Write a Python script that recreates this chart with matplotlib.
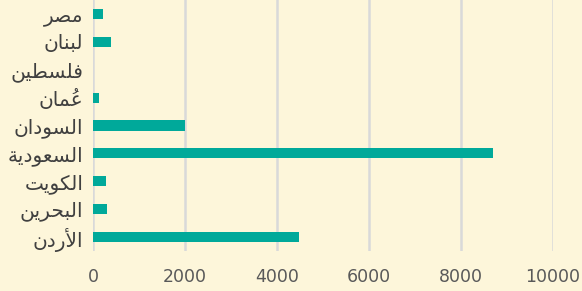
import matplotlib
matplotlib.use("Agg")
import matplotlib.pyplot as plt

# data, top to bottom as in the chart
countries = ["مصر", "لبنان", "فلسطين", "عُمان", "السودان",
             "السعودية", "الكويت", "البحرين", "الأردن"]
values = [220, 390, 0, 130, 2000, 8700, 280, 300, 4470]
xticks = [0, 2000, 4000, 6000, 8000, 10000]

# matplotlib has no arabic shaping, so map letters to presentation forms
# (isolated, final, initial, medial); right-joining letters have only 2
FORMS = {
    "ا": ("\uFE8D", "\uFE8E"), "أ": ("\uFE83", "\uFE84"),
    "د": ("\uFEA9", "\uFEAA"), "ر": ("\uFEAD", "\uFEAE"),
    "و": ("\uFEED", "\uFEEE"), "ة": ("\uFE93", "\uFE94"),
    "ب": ("\uFE8F", "\uFE90", "\uFE91", "\uFE92"),
    "ت": ("\uFE95", "\uFE96", "\uFE97", "\uFE98"),
    "ح": ("\uFEA1", "\uFEA2", "\uFEA3", "\uFEA4"),
    "س": ("\uFEB1", "\uFEB2", "\uFEB3", "\uFEB4"),
    "ص": ("\uFEB9", "\uFEBA", "\uFEBB", "\uFEBC"),
    "ط": ("\uFEC1", "\uFEC2", "\uFEC3", "\uFEC4"),
    "ع": ("\uFEC9", "\uFECA", "\uFECB", "\uFECC"),
    "ف": ("\uFED1", "\uFED2", "\uFED3", "\uFED4"),
    "ك": ("\uFED9", "\uFEDA", "\uFEDB", "\uFEDC"),
    "ل": ("\uFEDD", "\uFEDE", "\uFEDF", "\uFEE0"),
    "م": ("\uFEE1", "\uFEE2", "\uFEE3", "\uFEE4"),
    "ن": ("\uFEE5", "\uFEE6", "\uFEE7", "\uFEE8"),
    "ي": ("\uFEF1", "\uFEF2", "\uFEF3", "\uFEF4"),
}
LAM_ALEF = {"ا": ("\uFEFB", "\uFEFC"), "أ": ("\uFEF7", "\uFEF8")}
MARKS = {"\u064F"}


def shape(word):
    # group into clusters: base letter + following marks
    clusters = []
    for ch in word:
        if ch in MARKS and clusters:
            clusters[-1][1] += ch
        else:
            clusters.append([ch, ""])
    # merge lam + alef
    merged = []
    i = 0
    while i < len(clusters):
        if clusters[i][0] == "ل" and i + 1 < len(clusters) and clusters[i + 1][0] in LAM_ALEF:
            merged.append(["LA" + clusters[i + 1][0], clusters[i][1] + clusters[i + 1][1]])
            i += 2
        else:
            merged.append(clusters[i])
            i += 1

    def dual(c):
        return c in FORMS and len(FORMS[c]) == 4

    out = []
    for i, (c, m) in enumerate(merged):
        prev_joins = i > 0 and dual(merged[i - 1][0])
        if c.startswith("LA"):
            g = LAM_ALEF[c[2]][1 if prev_joins else 0]
        else:
            forms = FORMS[c]
            next_joins = dual(c) and i + 1 < len(merged)
            if prev_joins and next_joins:
                g = forms[3]
            elif next_joins:
                g = forms[2]
            elif prev_joins:
                g = forms[1]
            else:
                g = forms[0]
        # mark goes before the base in visual order so it sits over it
        out.append(m + g)
    return "".join(reversed(out))


fig = plt.figure(figsize=(5.82, 2.91), dpi=100)
bg = "#fdf6da"
fig.patch.set_facecolor(bg)
ax = fig.add_axes([0.16, 0.1375, 0.79, 0.8625])
ax.set_facecolor(bg)

ypos = list(range(len(countries)))
ax.barh(ypos, values, height=0.36, color="#00a99a", zorder=3)

ax.set_xlim(0, 10000)
ax.set_ylim(len(countries) - 0.5, -0.5)
ax.set_xticks(xticks)
ax.set_xticklabels([str(t) for t in xticks], fontsize=12.5, color="#595959")
ax.set_yticks(ypos)
ax.set_yticklabels([shape(c) for c in countries], fontsize=14.5, color="#404040",
                   family="DejaVu Sans")
ax.tick_params(axis="both", length=0)
ax.tick_params(axis="x", pad=12)
ax.tick_params(axis="y", pad=7)
ax.grid(axis="x", color="#d9d9d9", linewidth=1.8, zorder=0)
for s in ax.spines.values():
    s.set_visible(False)

fig.savefig("out.png", dpi=100, facecolor=bg)
